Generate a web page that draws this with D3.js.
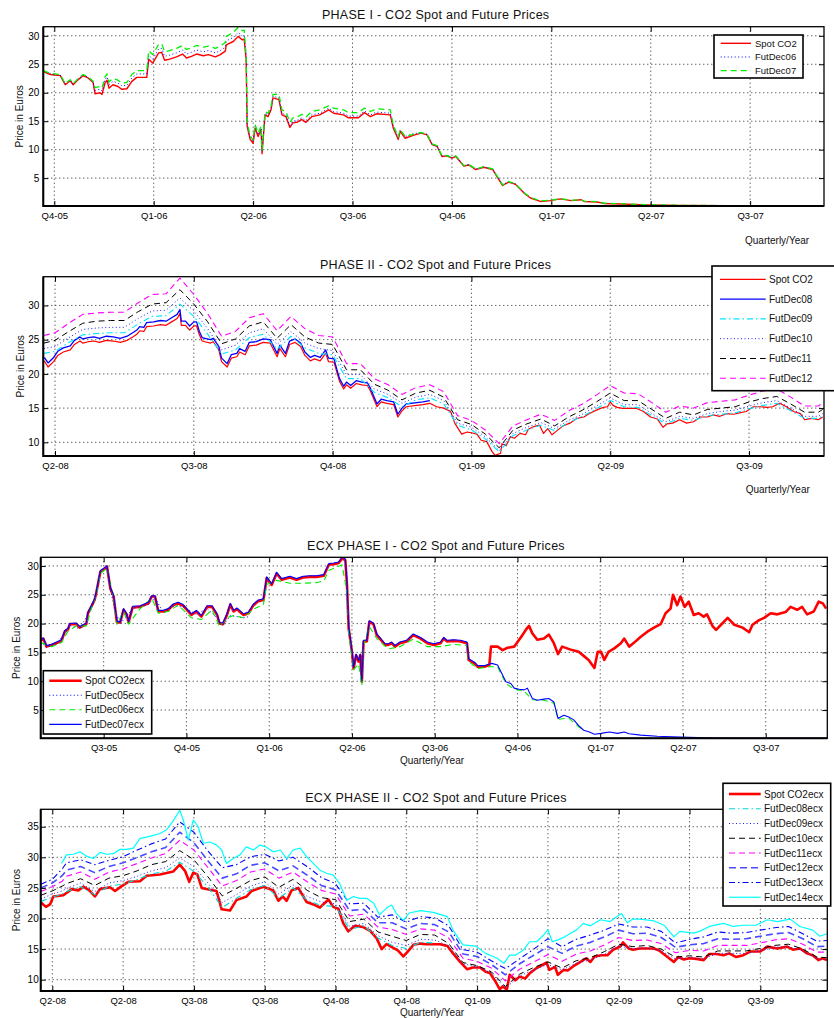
<!DOCTYPE html>
<html>
<head>
<meta charset="utf-8">
<script src="https://cdn.jsdelivr.net/npm/d3@7"></script>
<style>
  body { margin: 0; background: #fff; }
  svg { display: block; font-family: "Liberation Sans", Arial, Helvetica, sans-serif; }
</style>
</head>
<body>
<svg id="chart" width="834" height="1018"></svg>
<script>
// Time is measured in quarters from the first labelled quarter of each panel.

// ---------- Panel 1: PHASE I (time 0 = Q4-05) ----------
const p1Labels = ["Q4-05","Q1-06","Q2-06","Q3-06","Q4-06","Q1-07","Q2-07","Q3-07"];
const p1XTicks = [0,1,2,3,4,5,6,7];
const p1YTicks = [5,10,15,20,25,30];
const p1Time = [-0.11,-0.04,0.06,0.11,0.16,0.19,0.24,0.29,0.34,0.39,
  0.41,0.46,0.48,0.51,0.53,0.55,0.59,0.64,0.68,0.73,
  0.78,0.83,0.93,0.95,0.99,1.05,1.08,1.11,1.16,1.23,
  1.29,1.33,1.38,1.43,1.50,1.55,1.62,1.67,1.72,1.73,
  1.80,1.85,1.89,1.91,1.93,1.94,1.97,2.00,2.02,2.05,
  2.08,2.09,2.12,2.15,2.18,2.20,2.26,2.29,2.33,2.37,
  2.40,2.44,2.49,2.53,2.59,2.67,2.76,2.81,2.91,2.96,
  3.06,3.12,3.18,3.24,3.38,3.41,3.46,3.48,3.53,3.61,
  3.69,3.75,3.80,3.85,3.90,3.95,4.00,4.04,4.12,4.17,
  4.24,4.32,4.41,4.51,4.57,4.64,4.73,4.79,4.89,4.99,
  5.09,5.20,5.30,5.33,5.46,5.53,5.70,5.97,6.30,6.80,
  7.31,7.74];
const p1Spot = [23.7,23.2,23.0,21.4,22.1,21.4,22.3,23.0,22.6,21.8,
  19.8,20.0,19.7,21.7,22.2,20.8,21.4,21.1,20.6,20.7,
  22.0,22.7,22.7,25.9,25.2,27.0,27.1,25.7,25.9,26.3,
  26.8,26.1,26.4,26.8,26.5,26.7,26.3,26.7,27.3,28.4,
  29.0,29.9,29.3,29.4,25.8,14.1,11.8,11.1,13.8,12.3,
  13.5,9.3,16.1,15.8,17.0,19.1,18.8,16.1,15.8,13.9,
  14.7,14.8,15.3,14.8,15.8,16.1,17.0,16.4,16.1,15.6,
  15.6,16.5,15.8,16.3,16.1,13.8,11.8,13.2,12.0,12.5,
  12.9,12.6,10.9,10.6,8.8,8.9,8.5,8.8,7.1,7.3,
  6.5,6.9,6.5,3.7,4.3,3.9,2.3,1.5,0.9,1.05,
  1.35,1.05,1.2,0.9,0.8,0.55,0.45,0.3,0.2,0.15,
  0.12,0.1];
const p1FutDec06 = [23.8,23.3,23.1,21.5,22.2,21.5,22.4,23.1,22.7,21.9,
  20.4,20.6,20.3,22.3,22.8,21.4,22.0,21.7,21.2,21.3,
  22.6,23.3,23.3,26.6,25.9,27.7,27.8,26.4,26.6,27.0,
  27.5,26.8,27.1,27.5,27.2,27.4,27.0,27.4,28.0,29.1,
  29.7,30.6,30.0,30.1,26.5,14.4,12.1,11.4,14.1,12.6,
  13.8,9.6,16.4,16.1,17.3,19.4,19.1,16.4,16.1,14.2,
  15.0,15.1,15.6,15.1,16.1,16.4,17.3,16.7,16.4,15.9,
  15.9,16.8,16.1,16.6,16.4,14.1,12.1,13.5,12.3,12.8,
  13.0,12.7,11.0,10.7,8.9,9.0,8.6,8.9,7.2,7.4,
  6.6,7.0,6.6,3.8,4.4,4.0,2.4,1.6];
const p1FutDec07 = [23.9,23.4,23.2,21.6,22.3,21.6,22.5,23.2,22.8,22.0,
  20.9,21.1,20.8,22.8,23.3,21.9,22.5,22.2,21.7,21.8,
  23.2,23.9,23.9,27.4,26.7,28.5,28.6,27.2,27.4,27.8,
  28.3,27.6,27.9,28.3,28.0,28.2,27.8,28.2,28.8,29.9,
  30.6,31.5,30.9,31.0,26.4,14.7,12.4,11.7,14.4,12.9,
  14.1,9.9,16.7,16.4,17.6,19.7,19.7,17.0,16.7,14.8,
  15.6,15.7,16.2,15.7,16.7,17.0,17.7,17.3,17.0,16.5,
  16.5,17.3,16.7,17.2,17.0,14.3,12.2,13.5,12.3,12.7,
  13.0,12.7,11.0,10.7,8.9,9.0,8.6,8.9,7.2,7.4,
  6.6,7.0,6.6,3.8,4.4,4.0,2.4,1.6,1.0,1.1,
  1.4,1.1,1.2,0.95,0.85,0.6,0.5,0.32,0.22,0.16,
  0.13,0.11];

// ---------- Panel 2: PHASE II (time 0 = Q2-08) ----------
const p2Labels = ["Q2-08","Q3-08","Q4-08","Q1-09","Q2-09","Q3-09"];
const p2XTicks = [0,1,2,3,4,5];
const p2YTicks = [10,15,20,25,30];
const p2Time = [-0.077,-0.05,-0.01,0.02,0.06,0.11,0.14,0.18,0.20,0.24,
  0.28,0.32,0.37,0.42,0.47,0.52,0.56,0.59,0.61,0.64,
  0.66,0.71,0.76,0.80,0.84,0.88,0.90,0.91,0.94,0.97,
  1.00,1.02,1.04,1.06,1.08,1.12,1.14,1.18,1.20,1.24,
  1.27,1.31,1.33,1.37,1.40,1.45,1.50,1.55,1.60,1.62,
  1.66,1.69,1.73,1.77,1.80,1.84,1.87,1.91,1.95,1.97,
  2.01,2.03,2.05,2.08,2.10,2.13,2.17,2.21,2.25,2.27,
  2.32,2.35,2.39,2.44,2.47,2.50,2.53,2.605,2.65,2.70,
  2.75,2.80,2.85,2.88,2.93,2.97,3.00,3.04,3.07,3.11,
  3.15,3.17,3.21,3.22,3.25,3.28,3.31,3.35,3.39,3.41,
  3.45,3.49,3.52,3.55,3.58,3.61,3.66,3.71,3.76,3.81,
  3.85,3.90,3.95,3.98,4.00,4.02,4.05,4.09,4.14,4.19,
  4.24,4.29,4.34,4.38,4.41,4.45,4.50,4.55,4.60,4.65,
  4.70,4.74,4.79,4.84,4.89,4.93,4.98,5.03,5.08,5.13,
  5.17,5.22,5.27,5.32,5.37,5.40,5.45,5.50,5.53];
const p2Spot = [21.9,21.0,21.8,22.7,23.2,23.5,24.3,24.8,24.5,24.7,
  24.8,24.6,24.9,24.8,24.6,24.9,25.4,25.8,26.3,26.2,
  26.9,27.0,27.2,27.1,27.6,28.1,28.8,27.1,27.1,26.4,
  27.0,27.0,25.7,24.8,24.7,24.5,24.7,23.5,21.8,21.0,
  22.3,22.5,23.2,22.8,24.1,24.2,24.6,24.5,22.5,23.7,
  22.5,24.3,24.6,24.0,22.7,21.9,22.2,21.9,23.0,21.8,
  21.7,20.3,18.9,17.8,18.4,17.9,18.6,18.4,18.3,17.6,
  15.2,15.9,15.7,15.5,13.7,14.6,15.2,15.4,15.5,15.7,
  15.2,15.0,14.5,12.8,11.2,11.5,11.4,11.2,10.3,10.1,
  8.6,8.1,8.4,9.8,9.5,10.8,10.6,11.3,11.1,11.9,
  12.3,12.5,11.3,12.0,11.1,11.6,12.4,12.8,13.5,13.7,
  14.2,14.7,15.1,15.2,15.9,15.4,15.1,14.95,14.95,14.95,
  14.5,13.7,13.4,12.2,12.7,12.8,13.3,12.8,13.0,13.7,
  13.7,14.0,13.8,14.2,14.1,14.3,14.5,15.2,15.2,15.1,
  15.2,15.7,15.2,14.5,14.2,13.3,13.5,13.3,13.7];
// Dec08 contract trades on the spot calendar until it expires in December 2008
const p2FutDec08 = [22.4,21.6,22.4,23.3,23.8,24.1,24.9,25.4,25.1,25.3,
  25.4,25.2,25.5,25.4,25.2,25.5,26.0,26.4,26.9,26.8,
  27.5,27.6,27.8,27.7,28.2,28.7,29.4,27.7,27.7,27.0,
  27.6,27.6,26.2,25.3,25.2,25.0,25.2,24.0,22.3,21.5,
  22.8,23.0,23.7,23.3,24.6,24.7,25.1,25.0,23.0,24.2,
  23.0,24.8,25.1,24.5,23.2,22.4,22.7,22.4,23.5,22.3,
  22.2,20.7,19.3,18.2,18.8,18.3,19.0,18.8,18.7,18.0,
  15.6,16.3,16.1,15.9,14.1,15.0,15.6,15.8,15.9,16.1];
const p2FutTime = [-0.08,0.0,0.1,0.2,0.3,0.4,0.5,0.6,0.7,0.8,
  0.9,1.0,1.1,1.2,1.3,1.4,1.5,1.6,1.7,1.8,
  1.9,2.0,2.1,2.2,2.3,2.4,2.5,2.6,2.7,2.8,
  2.9,3.0,3.1,3.2,3.3,3.4,3.5,3.6,3.7,3.8,
  3.9,4.0,4.1,4.2,4.3,4.4,4.5,4.6,4.7,4.8,
  4.9,5.0,5.1,5.2,5.3,5.4,5.5,5.53];
const p2FutDec09 = [23.0,23.3,24.6,25.7,25.9,26.0,26.0,27.3,28.4,28.5,
  30.2,28.4,25.8,22.9,23.5,25.3,25.8,23.6,25.5,23.8,
  23.0,22.8,19.3,19.3,17.3,16.5,15.2,16.2,16.5,15.6,
  12.5,11.8,10.5,8.6,11.0,11.8,12.5,11.7,12.9,13.8,
  14.9,16.1,15.2,15.1,13.9,12.7,13.5,13.2,13.9,14.1,
  14.3,14.9,15.4,15.7,14.6,13.5,13.5,13.9];
const p2FutDec10 = [23.7,24.0,25.3,26.5,26.7,26.8,26.8,28.1,29.2,29.3,
  31.1,29.2,26.6,23.5,24.2,26.0,26.6,24.3,26.2,24.5,
  23.7,23.4,19.9,19.9,17.8,17.0,15.7,16.6,17.0,16.1,
  12.8,12.2,10.8,8.8,11.3,12.2,12.9,12.0,13.2,14.1,
  15.3,16.5,15.5,15.5,14.2,13.0,13.8,13.5,14.2,14.5,
  14.7,15.3,15.8,16.1,15.0,13.8,13.8,14.2];
const p2FutDec11 = [24.5,24.9,26.2,27.4,27.7,27.8,27.8,29.1,30.2,30.4,
  32.3,30.2,27.6,24.4,25.1,27.0,27.6,25.2,27.2,25.4,
  24.5,24.3,20.6,20.6,18.5,17.6,16.2,17.2,17.6,16.6,
  13.3,12.6,11.2,9.2,11.8,12.7,13.4,12.4,13.7,14.7,
  15.9,17.2,16.1,16.1,14.8,13.5,14.4,14.0,14.8,15.0,
  15.2,15.9,16.4,16.7,15.6,14.4,14.4,14.8];
const p2FutDec12 = [25.6,26.0,27.4,28.7,28.9,29.0,29.0,30.4,31.6,31.7,
  34.0,31.6,28.8,25.5,26.2,28.2,28.8,26.3,28.4,26.6,
  25.6,25.4,21.5,21.5,19.3,18.4,17.0,18.0,18.4,17.4,
  13.9,13.2,11.8,9.8,12.4,13.3,14.1,13.2,14.6,15.6,
  16.9,18.3,17.2,17.1,15.8,14.4,15.3,15.0,15.8,16.0,
  16.2,16.9,17.5,17.8,16.6,15.3,15.3,15.8];

// ---------- Panel 3: ECX PHASE I (time 0 = Q3-05) ----------
const p3Labels = ["Q3-05","Q4-05","Q1-06","Q2-06","Q3-06","Q4-06","Q1-07","Q2-07","Q3-07"];
const p3XTicks = [0,1,2,3,4,5,6,7,8];
const p3YTicks = [5,10,15,20,25,30];
const p3Time = [-0.76,-0.73,-0.69,-0.63,-0.57,-0.51,-0.47,-0.43,-0.41,-0.33,
  -0.29,-0.21,-0.19,-0.15,-0.11,-0.09,-0.04,0.02,0.04,0.08,
  0.12,0.14,0.16,0.20,0.24,0.28,0.30,0.35,0.44,0.54,
  0.58,0.62,0.66,0.72,0.78,0.84,0.90,0.96,1.06,1.12,
  1.18,1.25,1.31,1.37,1.40,1.44,1.49,1.53,1.57,1.61,
  1.69,1.75,1.81,1.87,1.93,1.97,2.00,2.03,2.09,2.15,
  2.25,2.33,2.41,2.49,2.57,2.66,2.72,2.78,2.84,2.88,
  2.92,2.94,2.96,3.00,3.02,3.05,3.08,3.10,3.12,3.14,
  3.18,3.21,3.26,3.30,3.36,3.40,3.44,3.48,3.52,3.58,
  3.66,3.74,3.83,3.91,3.99,4.07,4.11,4.15,4.23,4.31,
  4.39,4.41,4.48,4.52,4.60,4.66,4.68,4.76,4.82,4.88,
  4.96,5.02,5.06,5.10,5.14,5.18,5.24,5.32,5.38,5.44,
  5.49,5.54,5.60,5.66,5.74,5.80,5.86,5.93,5.97,6.01,
  6.05,6.10,6.17,6.25,6.29,6.35,6.41,6.49,6.57,6.65,
  6.73,6.79,6.85,6.88,6.93,6.97,7.02,7.07,7.13,7.19,
  7.25,7.29,7.36,7.40,7.46,7.54,7.62,7.72,7.80,7.84,
  7.92,7.98,8.06,8.14,8.24,8.30,8.38,8.44,8.50,8.58,
  8.64,8.69,8.73];
const p3Spot = [17.0,17.4,16.0,16.3,16.6,17.0,18.6,19.0,19.9,19.9,
  19.3,19.9,21.8,22.9,24.1,25.3,29.0,29.6,29.9,26.1,
  24.7,22.4,20.2,20.2,22.4,21.5,20.2,22.8,22.9,23.5,
  24.7,24.7,22.1,22.1,22.4,23.2,23.5,23.1,21.5,22.1,
  21.2,22.9,22.9,21.5,20.0,19.9,21.5,23.3,22.1,22.5,
  21.5,21.8,23.2,23.9,24.1,27.9,27.3,26.7,28.7,27.6,
  28.0,27.6,28.0,28.1,28.1,28.3,30.2,30.3,30.5,31.3,
  31.0,26.7,19.2,15.1,12.2,14.5,13.4,14.5,9.9,16.9,
  16.9,20.3,19.9,18.0,17.0,16.3,16.3,16.6,16.0,16.6,
  16.9,18.0,17.4,16.6,16.3,16.6,17.4,16.9,17.0,16.9,
  16.6,13.7,13.1,12.5,12.5,12.8,16.0,16.0,15.4,15.8,
  16.0,17.2,18.0,18.9,19.6,18.3,17.2,17.4,18.1,16.6,
  14.7,16.0,15.7,15.4,15.1,14.4,13.7,12.3,15.1,15.1,
  13.7,15.1,15.7,16.6,17.4,16.0,16.7,17.7,18.6,19.3,
  19.9,21.8,22.6,25.0,23.2,24.7,22.9,23.8,21.5,21.8,
  21.2,21.6,19.5,18.9,19.8,21.0,19.8,19.3,18.5,19.8,
  20.6,21.0,21.8,21.6,22.0,22.9,22.4,22.9,21.6,22.1,
  23.8,23.5,22.6];
const p3Dec05Time = [-0.76,-0.69,-0.57,-0.47,-0.41,-0.29,-0.19,-0.11,-0.04,0.04,
  0.08,0.14,0.20,0.28,0.35,0.54,0.62,0.72,0.84,0.96,
  1.12,1.25,1.37,1.44,1.53,1.61,1.69,1.75];
const p3FutDec05 = [16.9,15.9,16.5,18.4,19.7,19.1,21.6,23.9,28.8,29.7,
  25.9,22.2,20.0,21.3,22.6,23.3,24.5,21.9,23.0,22.9,
  21.6,22.6,21.0,19.6,21.4,21.2,21.0,21.2];
const p3Dec06Time = [-0.76,-0.63,-0.51,-0.43,-0.33,-0.21,-0.15,-0.09,-0.04,0.04,
  0.12,0.16,0.24,0.30,0.44,0.58,0.66,0.78,0.90,1.06,
  1.18,1.31,1.40,1.49,1.57,1.69,1.81,1.93,1.97,2.09,
  2.25,2.41,2.57,2.66,2.72,2.88,2.94,2.96,3.02,3.08,
  3.12,3.14,3.21,3.30,3.44,3.58,3.74,3.91,4.07,4.23,
  4.39,4.41,4.52,4.66,4.76,4.86,4.96,5.08,5.18,5.32,
  5.44,5.49,5.62,5.74,5.80];
const p3FutDec06 = [16.7,16.0,16.7,18.7,19.6,19.6,22.6,25.0,28.7,29.6,
  24.4,19.9,22.1,19.9,22.6,24.4,21.8,22.1,23.2,21.0,
  20.7,22.4,19.5,21.0,21.4,21.0,22.5,23.3,26.8,27.5,
  27.0,27.0,27.1,27.4,29.2,30.2,25.5,18.5,12.0,13.0,
  9.3,16.2,19.5,17.4,15.6,16.0,17.3,16.0,16.0,16.4,
  16.2,13.4,12.2,12.5,12.5,9.6,8.6,8.3,6.8,6.7,
  6.2,3.4,3.6,2.1,1.4];
// Dec07 shares the spot calendar until the spot series switches contract, then runs on alone
const p3Dec07Tail = [4.69,4.76,4.82,4.86,4.92,4.96,5.02,5.08,5.12,5.18,
  5.24,5.32,5.38,5.44,5.49,5.56,5.62,5.68,5.74,5.80,
  5.87,5.93,6.01,6.11,6.21,6.29,6.35,6.49,6.69,6.97,
  7.38,7.78,8.74];
const p3FutDec07 = [17.2,17.5,16.2,16.4,16.8,17.2,18.8,19.2,20.0,20.1,
  19.5,20.1,22.0,23.1,24.3,25.5,29.2,29.8,30.0,26.4,
  24.9,22.7,20.4,20.3,22.6,21.7,20.4,23.0,23.1,23.7,
  24.8,24.8,22.3,22.3,22.6,23.4,23.7,23.3,21.7,22.3,
  21.4,23.1,23.1,21.7,20.2,20.1,21.7,23.5,22.3,22.7,
  21.7,22.0,23.4,24.1,24.3,28.1,27.5,26.9,28.9,27.8,
  28.2,27.8,28.2,28.3,28.3,28.5,30.4,30.5,30.7,31.5,
  31.2,27.3,19.6,15.3,12.4,14.7,13.6,14.7,10.1,17.1,
  17.1,20.5,20.1,18.2,17.2,16.5,16.5,16.8,16.2,16.8,
  17.1,18.2,17.6,16.8,16.5,16.8,17.6,17.1,17.2,17.1,
  16.8,13.9,13.3,12.7,12.7,13.0,
  13.1,12.8,11.1,9.9,9.6,8.8,8.6,8.5,8.8,7.0,
  6.7,6.9,7.0,6.4,3.55,4.1,3.8,3.3,2.3,1.5,
  1.2,0.8,0.95,1.2,0.95,1.2,0.9,0.65,0.45,0.3,
  0.15,0.1,0.1];

// ---------- Panel 4: ECX PHASE II (time 0 = first Q2-08 tick, ticks every half quarter) ----------
const p4Labels = ["Q2-08","Q2-08","Q3-08","Q3-08","Q4-08","Q4-08","Q1-09","Q1-09","Q2-09","Q2-09","Q3-09"];
const p4XTicks = [0,0.5,1,1.5,2,2.5,3,3.5,4,4.5,5];
const p4YTicks = [10,15,20,25,30,35];
const p4Time = [-0.08,-0.045,-0.016,0.007,0.078,0.137,0.184,0.219,0.261,0.301,
  0.337,0.407,0.443,0.49,0.537,0.619,0.666,0.76,0.855,0.90,
  0.937,0.967,0.996,1.024,1.055,1.113,1.16,1.196,1.255,1.30,
  1.372,1.408,1.49,1.56,1.596,1.627,1.655,1.69,1.737,1.796,
  1.843,1.89,1.95,1.984,2.02,2.055,2.09,2.137,2.196,2.243,
  2.29,2.326,2.36,2.408,2.44,2.479,2.51,2.55,2.60,2.64,
  2.69,2.74,2.79,2.83,2.88,2.93,2.97,3.02,3.06,3.09,
  3.13,3.16,3.18,3.21,3.23,3.27,3.30,3.34,3.37,3.42,
  3.46,3.49,3.51,3.55,3.57,3.61,3.64,3.68,3.73,3.77,
  3.80,3.83,3.88,3.92,3.96,4.01,4.03,4.07,4.10,4.15,
  4.20,4.25,4.29,4.34,4.39,4.42,4.46,4.50,4.55,4.60,
  4.64,4.69,4.74,4.78,4.83,4.88,4.93,5.00,5.05,5.12,
  5.19,5.23,5.28,5.33,5.37,5.41,5.44,5.47];
const p4Spot = [22.6,21.9,22.3,23.6,23.8,24.8,24.6,25.2,24.6,23.6,
  24.8,25.1,24.5,25.3,26.0,26.1,27.0,27.2,27.7,28.8,
  27.8,26.0,27.5,27.2,25.0,24.7,24.5,21.5,21.3,23.0,
  23.6,24.5,25.2,24.6,22.9,23.6,22.9,24.6,25.0,22.7,
  22.3,21.8,23.1,21.9,21.6,19.2,17.9,18.8,18.6,18.0,
  16.8,15.0,15.8,15.2,14.8,13.8,14.6,15.7,15.9,15.8,
  15.8,15.8,15.5,14.3,12.9,11.7,12.0,12.0,11.3,11.1,
  9.7,8.4,8.9,8.4,10.8,9.9,10.5,10.2,11.0,11.9,
  12.4,12.8,11.6,12.1,10.8,11.6,11.5,12.2,12.9,13.5,
  12.9,13.8,14.0,14.0,14.9,15.4,16.1,15.1,14.9,15.1,
  15.1,15.1,14.7,13.8,12.9,13.7,13.3,13.5,13.4,13.2,
  14.2,14.2,14.0,14.3,13.7,14.0,14.6,14.6,15.4,15.1,
  15.4,14.9,15.1,14.3,14.0,13.2,13.5,13.2];
const p4FutTime = [-0.08,0.0,0.07,0.1,0.2,0.3,0.4,0.5,0.6,0.7,
  0.8,0.9,1.0,1.1,1.2,1.3,1.4,1.5,1.6,1.7,
  1.8,1.9,2.0,2.1,2.2,2.3,2.4,2.5,2.6,2.7,
  2.8,2.9,3.0,3.1,3.2,3.3,3.4,3.5,3.6,3.7,
  3.8,3.9,4.0,4.1,4.2,4.3,4.4,4.5,4.6,4.7,
  4.8,4.9,5.0,5.1,5.2,5.3,5.4,5.47];
const p4FutDec08 = [22.8,23.5,24.0,24.4,25.2,23.9,25.3,25.6,26.4,27.3,
  27.7,29.2,27.7,25.1,21.8,23.3,24.7,25.4,23.3,25.0,
  23.0,22.1,22.0,18.2,18.8,16.8,15.6,15.1,16.1,16.0];
const p4FutDec09 = [23.2,24.0,24.5,24.9,25.8,24.4,25.8,26.2,26.9,27.8,
  28.3,29.9,28.5,25.8,22.6,23.9,25.3,26.0,24.0,25.5,
  23.6,22.7,22.4,18.7,19.2,17.2,16.1,15.6,16.6,16.5,
  15.5,12.6,12.1,11.1,8.6,10.6,11.6,12.5,11.6,12.7,
  13.2,14.2,15.5,15.1,15.2,14.7,13.4,13.6,13.4,14.3,
  14.3,14.3,14.7,15.3,15.4,14.7,13.4,13.3];
const p4FutDec10 = [23.8,24.5,25.3,25.7,26.5,25.4,26.6,27.0,27.8,28.8,
  29.3,31.1,29.6,26.8,23.7,24.9,26.2,26.8,25.1,26.4,
  24.6,23.4,23.1,19.5,19.9,17.8,17.1,16.4,17.4,17.3,
  15.9,12.8,12.3,11.3,8.9,10.9,12.0,12.9,11.9,13.1,
  13.6,14.6,15.8,15.4,15.6,15.0,13.7,13.9,13.7,14.7,
  14.7,14.7,15.1,15.6,15.8,15.0,13.7,13.6];
const p4FutDec11 = [24.4,25.2,26.1,26.9,27.6,26.4,27.6,28.1,29.0,29.9,
  30.6,32.8,31.2,28.3,25.3,26.2,27.6,28.1,26.6,27.6,
  26.0,24.6,24.0,20.4,20.7,18.6,18.2,17.4,18.3,18.1,
  16.8,13.5,13.0,11.9,9.8,11.7,12.9,14.1,13.0,14.2,
  14.7,15.7,16.9,16.4,16.5,15.9,14.4,14.8,14.7,15.6,
  15.6,15.6,16.0,16.5,16.7,15.8,14.5,14.5];
const p4FutDec12 = [25.0,25.8,27.0,27.9,28.5,27.5,28.5,29.1,30.0,30.9,
  31.6,34.1,32.4,29.4,26.6,27.3,28.7,29.1,27.8,28.6,
  27.1,25.4,24.7,21.3,21.5,19.3,19.3,18.3,19.2,19.0,
  17.8,14.2,13.8,12.5,10.8,12.6,14.0,15.4,14.3,15.5,
  16.1,17.0,18.1,17.5,17.6,16.9,15.3,15.7,15.9,16.7,
  16.6,16.7,17.1,17.5,17.7,16.7,15.4,15.5];
const p4FutDec13 = [25.6,26.4,28.1,29.1,29.6,28.8,29.5,30.1,31.2,32.2,
  33.0,35.8,34.1,31.0,28.3,28.8,30.1,30.5,29.4,30.0,
  28.5,26.7,25.7,22.4,22.5,20.2,20.6,19.4,20.3,20.1,
  18.8,14.9,14.5,13.1,11.8,13.4,15.0,16.7,15.4,16.6,
  17.3,18.1,19.1,18.6,18.6,17.9,16.0,16.6,17.0,17.8,
  17.6,17.7,18.1,18.5,18.7,17.5,16.3,16.4];
const p4Dec14Time = [0.066,0.10,0.148,0.195,0.24,0.29,0.337,0.384,0.43,0.478,
  0.525,0.572,0.62,0.666,0.713,0.76,0.807,0.855,0.90,0.925,
  0.96,0.996,1.03,1.066,1.113,1.16,1.196,1.23,1.278,1.325,
  1.37,1.42,1.467,1.51,1.56,1.61,1.655,1.70,1.75,1.796,
  1.843,1.89,1.937,1.984,2.03,2.08,2.126,2.17,2.22,2.27,
  2.31,2.36,2.396,2.43,2.48,2.52,2.60,2.69,2.79,2.83,
  2.90,2.99,3.06,3.14,3.19,3.23,3.27,3.33,3.37,3.42,
  3.47,3.50,3.53,3.57,3.62,3.66,3.70,3.75,3.80,3.87,
  3.94,3.98,4.02,4.06,4.10,4.15,4.25,4.32,4.39,4.43,
  4.53,4.57,4.64,4.74,4.81,4.88,4.97,5.05,5.12,5.21,
  5.28,5.37,5.42,5.47];
const p4FutDec14 = [29.0,30.4,30.5,30.9,30.2,29.8,30.8,30.5,30.6,31.3,
  31.3,31.5,33.1,33.3,33.6,33.9,34.5,36.0,37.7,36.1,
  32.8,36.1,35.0,32.3,32.5,32.0,31.2,29.0,29.8,30.4,
  31.7,31.2,32.0,31.7,30.9,31.2,29.8,31.2,31.5,30.1,
  29.0,27.9,27.4,27.1,25.7,23.0,23.6,23.3,23.3,22.5,
  20.6,21.7,22.2,20.8,19.7,20.9,21.3,21.0,20.3,18.1,
  15.7,15.5,14.3,13.5,12.7,14.0,14.0,14.9,16.2,16.2,
  17.3,18.2,16.2,16.5,17.0,17.6,18.1,19.2,18.8,19.8,
  19.5,20.2,20.8,19.3,19.9,19.9,19.6,18.9,17.0,17.9,
  17.6,17.9,18.7,19.2,18.7,18.9,18.9,19.8,19.5,19.9,
  18.7,18.1,17.1,17.5];

// ---------- drawing ----------
const svg = d3.select("#chart");
const FONT = '"Liberation Sans", Arial, Helvetica, sans-serif';
const DOT = "1,2.5", DASH = "6,4", DASHDOT = "6,3,1.5,3";

const panels = [
  {
    id: 1, title: "PHASE I - CO2 Spot and Future Prices", titleY: 19,
    box: {left: 43.3, right: 824, top: 26.7, bottom: 206},
    xDomain: [-0.1107, 7.743], yDomain: [0.1, 31.6],
    xTicks: p1XTicks, xLabels: p1Labels, yTicks: p1YTicks, yPad: 4,
    yLabelX: 19.7, xLabel: {x: 745, y: 243.5, anchor: "start"},
    legend: {x: 714, y: 35, w: 89, h: 43, row0: 43.3, step: 13.7, x1: 720.7, x2: 751, tx: 755, fs: 9.5},
    series: [
      {name: "Spot CO2", time: p1Time, values: p1Spot, color: "#ff0000", width: 1.4},
      {name: "FutDec06", time: p1Time, values: p1FutDec06, color: "#0000ff", width: 1, dash: DOT},
      {name: "FutDec07", time: p1Time, values: p1FutDec07, color: "#00ee00", width: 1.3, dash: DASH}
    ]
  },
  {
    id: 2, title: "PHASE II - CO2 Spot and Future Prices", titleY: 268.5,
    box: {left: 43.3, right: 824, top: 276.7, bottom: 456},
    xDomain: [-0.0843, 5.540], yDomain: [8.0, 34.2],
    xTicks: p2XTicks, xLabels: p2Labels, yTicks: p2YTicks, yPad: 4,
    yLabelX: 20.3, xLabel: {x: 745.7, y: 493, anchor: "start"},
    legend: {x: 712, y: 266, w: 130, h: 124.7, row0: 279.3, step: 19.8, x1: 720, x2: 765.7, tx: 769, fs: 10},
    series: [
      {name: "Spot CO2", time: p2Time, values: p2Spot, color: "#ff0000", width: 1.2},
      {name: "FutDec08", time: p2Time, values: p2FutDec08, color: "#0000ff", width: 1.3},
      {name: "FutDec09", time: p2FutTime, values: p2FutDec09, color: "#00e5ff", width: 1.1, dash: DASHDOT},
      {name: "FutDec10", time: p2FutTime, values: p2FutDec10, color: "#2020ff", width: 1, dash: DOT},
      {name: "FutDec11", time: p2FutTime, values: p2FutDec11, color: "#000000", width: 1, dash: DASH},
      {name: "FutDec12", time: p2FutTime, values: p2FutDec12, color: "#ff00ff", width: 1.1, dash: DASH}
    ]
  },
  {
    id: 3, title: "ECX PHASE I - CO2 Spot and Future Prices", titleY: 550,
    box: {left: 40.7, right: 827.3, top: 557.3, bottom: 738.3},
    xDomain: [-0.761, 8.744], yDomain: [0.1, 31.5],
    xTicks: p3XTicks, xLabels: p3Labels, yTicks: p3YTicks, yPad: 2,
    yLabelX: 16.2, xLabel: {x: 432, y: 764, anchor: "middle"},
    legend: {x: 43.3, y: 670.7, w: 108.4, h: 63.3, row0: 680.7, step: 14.55, x1: 49.3, x2: 81.7, tx: 85, fs: 10},
    series: [
      {name: "Spot CO2ecx", time: p3Time, values: p3Spot, color: "#ff0000", width: 2.6},
      {name: "FutDec05ecx", time: p3Dec05Time, values: p3FutDec05, color: "#0000ff", width: 1, dash: DOT},
      {name: "FutDec06ecx", time: p3Dec06Time, values: p3FutDec06, color: "#00ee00", width: 1.1, dash: DASH},
      {name: "FutDec07ecx", time: p3Time.slice(0, 106).concat(p3Dec07Tail), values: p3FutDec07, color: "#0000ff", width: 1.1}
    ]
  },
  {
    id: 4, title: "ECX PHASE II - CO2 Spot and Future Prices", titleY: 801.7,
    box: {left: 40.7, right: 827.3, top: 809.3, bottom: 991},
    xDomain: [-0.0819, 5.473], yDomain: [8.15, 37.85],
    xTicks: p4XTicks, xLabels: p4Labels, yTicks: p4YTicks, yPad: 2,
    yLabelX: 16.3, xLabel: {x: 432, y: 1016, anchor: "middle"},
    legend: {x: 723, y: 783.3, w: 107.7, h: 122.7, row0: 794, step: 14.75, x1: 729, x2: 760.7, tx: 764, fs: 10},
    series: [
      {name: "Spot CO2ecx", time: p4Time, values: p4Spot, color: "#ff0000", width: 2.6},
      {name: "FutDec08ecx", time: p4FutTime, values: p4FutDec08, color: "#00d8d8", width: 1.1, dash: DASHDOT},
      {name: "FutDec09ecx", time: p4FutTime, values: p4FutDec09, color: "#2020ff", width: 1, dash: DOT},
      {name: "FutDec10ecx", time: p4FutTime, values: p4FutDec10, color: "#000000", width: 1, dash: DASH},
      {name: "FutDec11ecx", time: p4FutTime, values: p4FutDec11, color: "#ff00ff", width: 1.1, dash: DASH},
      {name: "FutDec12ecx", time: p4FutTime, values: p4FutDec12, color: "#4a4aff", width: 1.6, dash: "7,4"},
      {name: "FutDec13ecx", time: p4FutTime, values: p4FutDec13, color: "#0000ff", width: 1.1, dash: DASHDOT},
      {name: "FutDec14ecx", time: p4Dec14Time, values: p4FutDec14, color: "#00ffff", width: 1.2}
    ]
  }
];

const defs = svg.append("defs");

function styleAxis(sel, size) {
  sel.attr("font-family", FONT).attr("font-size", size);
  sel.select(".domain").remove();
  sel.selectAll("line").attr("stroke", "#000");
  sel.selectAll("text").attr("fill", "#000");
}

function drawPanel(p) {
  const b = p.box;
  const x = d3.scaleLinear().domain(p.xDomain).range([b.left, b.right]);
  const y = d3.scaleLinear().domain(p.yDomain).range([b.bottom, b.top]);
  const g = svg.append("g");

  defs.append("clipPath").attr("id", "clip" + p.id)
    .append("rect").attr("x", b.left).attr("y", b.top)
    .attr("width", b.right - b.left).attr("height", b.bottom - b.top);

  // dotted grid
  const grid = g.append("g").attr("stroke", "#000").attr("stroke-width", 1)
    .attr("stroke-dasharray", "1,3").attr("opacity", 0.85);
  grid.selectAll("line.gx").data(p.xTicks).join("line").attr("class", "gx")
    .attr("x1", d => x(d)).attr("x2", d => x(d)).attr("y1", b.top).attr("y2", b.bottom);
  grid.selectAll("line.gy").data(p.yTicks).join("line").attr("class", "gy")
    .attr("x1", b.left).attr("x2", b.right).attr("y1", d => y(d)).attr("y2", d => y(d));

  // price series
  const line = d3.line().x(d => x(d[0])).y(d => y(d[1]));
  const lines = g.append("g").attr("clip-path", `url(#clip${p.id})`);
  p.series.forEach(s => {
    const pts = s.values.map((v, i) => [s.time[i], v]);
    lines.append("path").attr("d", line(pts)).attr("fill", "none")
      .attr("stroke", s.color).attr("stroke-width", s.width)
      .attr("stroke-linejoin", "round")
      .attr("stroke-dasharray", s.dash || null);
  });

  // axes with inward ticks on all four sides
  const ax = g.append("g").attr("transform", `translate(0,${b.bottom})`)
    .call(d3.axisBottom(x).tickValues(p.xTicks).tickFormat((d, i) => p.xLabels[i])
      .tickSizeInner(-5).tickSizeOuter(0).tickPadding(6));
  styleAxis(ax, 9.5);
  const axTop = g.append("g").attr("transform", `translate(0,${b.top})`)
    .call(d3.axisTop(x).tickValues(p.xTicks).tickFormat("").tickSizeInner(-5).tickSizeOuter(0));
  styleAxis(axTop, 9.5);
  const ay = g.append("g").attr("transform", `translate(${b.left},0)`)
    .call(d3.axisLeft(y).tickValues(p.yTicks).tickSizeInner(-5).tickSizeOuter(0).tickPadding(p.yPad));
  styleAxis(ay, 10);
  const ayR = g.append("g").attr("transform", `translate(${b.right},0)`)
    .call(d3.axisRight(y).tickValues(p.yTicks).tickFormat("").tickSizeInner(-5).tickSizeOuter(0));
  styleAxis(ayR, 10);

  // frame: heavier left/bottom
  g.append("rect").attr("x", b.left).attr("y", b.top)
    .attr("width", b.right - b.left).attr("height", b.bottom - b.top)
    .attr("fill", "none").attr("stroke", "#000").attr("stroke-width", 1.3);
  g.append("path")
    .attr("d", `M${b.left},${b.top}V${b.bottom}H${b.right}`)
    .attr("fill", "none").attr("stroke", "#000").attr("stroke-width", 2);

  // title and axis labels
  g.append("text").attr("x", (b.left + b.right) / 2 + 2).attr("y", p.titleY)
    .attr("text-anchor", "middle").attr("font-size", 12.5).attr("letter-spacing", 0.28)
    .attr("fill", "#111").text(p.title);
  g.append("text")
    .attr("transform", `translate(${p.yLabelX},${(b.top + b.bottom) / 2}) rotate(-90)`)
    .attr("text-anchor", "middle").attr("dy", "0.35em").attr("font-size", 10)
    .attr("fill", "#111").text("Price in Euros");
  g.append("text").attr("x", p.xLabel.x).attr("y", p.xLabel.y)
    .attr("text-anchor", p.xLabel.anchor).attr("font-size", 10)
    .attr("fill", "#111").text("Quarterly/Year");

  // legend
  const L = p.legend;
  const lg = g.append("g");
  lg.append("rect").attr("x", L.x).attr("y", L.y).attr("width", L.w).attr("height", L.h)
    .attr("fill", "#fff").attr("stroke", "#000").attr("stroke-width", 1.6);
  p.series.forEach((s, i) => {
    const yy = L.row0 + i * L.step;
    lg.append("line").attr("x1", L.x1).attr("x2", L.x2).attr("y1", yy).attr("y2", yy)
      .attr("stroke", s.color).attr("stroke-width", s.width)
      .attr("stroke-dasharray", s.dash || null);
    lg.append("text").attr("x", L.tx).attr("y", yy).attr("dy", "0.35em")
      .attr("font-size", L.fs).attr("fill", "#111").text(s.name);
  });
}

panels.forEach(drawPanel);
</script>
</body>
</html>
